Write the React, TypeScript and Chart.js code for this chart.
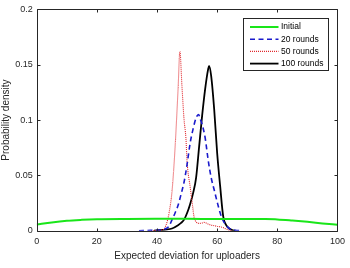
import React, { useEffect, useRef } from "react";
import { Chart, registerables } from "chart.js";

Chart.register(...registerables);

const xTicks = [0, 20, 40, 60, 80, 100];
const yTicks = [0, 0.05, 0.1, 0.15, 0.2];

const initialX = [0, 5, 10, 15, 20, 30, 40, 50, 60, 70, 75, 80, 85, 90, 95, 100];
const initialY = [0.0055, 0.0075, 0.009, 0.0098, 0.0103, 0.0106, 0.0107, 0.0107, 0.0106, 0.0106, 0.0105, 0.0102, 0.0092, 0.008, 0.0066, 0.0053];

const r20X = [34, 38, 40, 42, 43, 44, 45, 46, 47, 48, 49, 50, 51, 52, 53, 53.8, 54.5, 55, 56, 57, 58, 59, 60, 61, 62, 63, 64, 65, 66, 68];
const r20Y = [0, 0.0003, 0.0005, 0.001, 0.002, 0.004, 0.01, 0.016, 0.023, 0.033, 0.044, 0.06, 0.079, 0.092, 0.102, 0.105, 0.1, 0.096, 0.084, 0.064, 0.048, 0.037, 0.026, 0.016, 0.009, 0.005, 0.002, 0.001, 0.0004, 0];

const r50X = [38, 40, 42, 43, 44, 45, 46, 47, 47.6, 48.3, 49, 49.6, 50, 51, 51.8, 52.3, 53, 54, 55, 55.6, 57, 58, 59, 60, 61, 62, 63, 64, 65];
const r50Y = [0, 0.0003, 0.001, 0.005, 0.016, 0.036, 0.075, 0.128, 0.162, 0.13, 0.1, 0.084, 0.062, 0.04, 0.023, 0.0125, 0.008, 0.0066, 0.007, 0.0075, 0.006, 0.005, 0.0045, 0.004, 0.0035, 0.0028, 0.0015, 0.0005, 0];

const r100X = [39, 41, 43, 45, 47, 48, 49, 50, 51, 52, 53, 54, 55, 56, 57, 57.3, 58, 59, 60, 61, 62, 63, 64, 65, 66];
const r100Y = [0, 0.0005, 0.001, 0.002, 0.005, 0.007, 0.01, 0.016, 0.024, 0.034, 0.048, 0.076, 0.104, 0.128, 0.146, 0.149, 0.14, 0.11, 0.07, 0.04, 0.013, 0.005, 0.002, 0.0005, 0];

const seriesLabels = ["Initial", "20 rounds", "50 rounds", "100 rounds"];

const toPts = (xs: number[], ys: number[]) => xs.map((x, i) => ({ x, y: ys[i] }));

const AXIS = "#262626";
const FONT = "'Liberation Sans', Arial, Helvetica, sans-serif";

const framePlugin = {
  id: "frame",
  afterDraw(chart: any) {
    const { ctx, chartArea: a, scales } = chart;
    ctx.save();
    ctx.strokeStyle = AXIS;
    ctx.lineWidth = 1;
    ctx.beginPath();
    const L = Math.round(a.left) + 0.5, R = Math.round(a.right) + 0.5;
    const T = Math.round(a.top) + 0.5, B = Math.round(a.bottom) + 0.5;
    ctx.rect(L, T, R - L, B - T);
    const tl = 3;
    for (const v of xTicks) {
      const px = Math.round(scales.x.getPixelForValue(v)) + 0.5;
      ctx.moveTo(px, B); ctx.lineTo(px, B - tl);
      ctx.moveTo(px, T); ctx.lineTo(px, T + tl);
    }
    for (const v of yTicks) {
      const py = Math.round(scales.y.getPixelForValue(v)) + 0.5;
      ctx.moveTo(L, py); ctx.lineTo(L + tl, py);
      ctx.moveTo(R, py); ctx.lineTo(R - tl, py);
    }
    ctx.stroke();

    // legend box
    const bw = 85, bh = 52;
    const bx = Math.round(a.right - 9 - bw) + 0.5;
    const by = Math.round(a.top + 9) + 0.5;
    ctx.fillStyle = "#ffffff";
    ctx.fillRect(bx, by, bw, bh);
    ctx.strokeStyle = AXIS;
    ctx.lineWidth = 1;
    ctx.setLineDash([]);
    ctx.strokeRect(bx, by, bw, bh);
    ctx.font = `8.5px ${FONT}`;
    ctx.textBaseline = "middle";
    ctx.textAlign = "left";
    chart.data.datasets.forEach((ds: any, i: number) => {
      const y = by + 8.5 + i * 12.2;
      ctx.beginPath();
      ctx.strokeStyle = ds.borderColor;
      ctx.lineWidth = ds.borderWidth;
      ctx.setLineDash(ds.borderDash || []);
      ctx.moveTo(bx + 6.5, y);
      ctx.lineTo(bx + 35, y);
      ctx.stroke();
      ctx.setLineDash([]);
      ctx.fillStyle = "#000000";
      ctx.fillText(ds.label, bx + 37.5, y);
    });
    ctx.restore();
  },
};

export default function App() {
  const ref = useRef<HTMLCanvasElement>(null);
  useEffect(() => {
    document.body.style.margin = "0";
    const c = ref.current!;
    const chart = new Chart(c, {
      type: "scatter",
      data: {
        datasets: [
          { label: seriesLabels[0], data: toPts(initialX, initialY), showLine: true, borderColor: "#19e619", borderWidth: 2, pointRadius: 0, cubicInterpolationMode: "monotone" },
          { label: seriesLabels[1], data: toPts(r20X, r20Y), showLine: true, borderColor: "#1a1acc", borderWidth: 1.6, borderDash: [5, 3.5], pointRadius: 0, cubicInterpolationMode: "monotone" },
          { label: seriesLabels[2], data: toPts(r50X, r50Y), showLine: true, borderColor: "#e0282d", borderWidth: 1.1, borderDash: [1, 1], pointRadius: 0, cubicInterpolationMode: "monotone" },
          { label: seriesLabels[3], data: toPts(r100X, r100Y), showLine: true, borderColor: "#000000", borderWidth: 1.8, pointRadius: 0, cubicInterpolationMode: "monotone" },
        ] as any,
      },
      options: {
        responsive: false,
        animation: false,
        layout: { padding: { top: 6, right: 11, bottom: 0, left: 0 } },
        plugins: { legend: { display: false }, tooltip: { enabled: false } },
        scales: {
          x: {
            type: "linear", min: 0, max: 100,
            afterBuildTicks: (s: any) => { s.ticks = xTicks.map((v) => ({ value: v })); },
            afterFit: (s: any) => { s.height = 37.3; },
            grid: { display: false, drawTicks: false },
            border: { display: false },
            ticks: { padding: 5, color: AXIS, font: { family: FONT, size: 9 }, maxRotation: 0, callback: (v: any) => String(v) },
            title: { display: true, text: "Expected deviation for uploaders", color: AXIS, font: { family: FONT, size: 10 }, padding: { top: 0, bottom: 6 } },
          },
          y: {
            type: "linear", min: 0, max: 0.2,
            afterBuildTicks: (s: any) => { s.ticks = yTicks.map((v) => ({ value: v })); },
            afterFit: (s: any) => { s.width = 36.7; },
            grid: { display: false, drawTicks: false },
            border: { display: false },
            ticks: { padding: 4, color: AXIS, font: { family: FONT, size: 9 }, callback: (v: any) => String(Number(v)) },
            title: { display: true, text: "Probability density", color: AXIS, font: { family: FONT, size: 10 }, padding: 0 },
          },
        },
      } as any,
      plugins: [framePlugin],
    });
    return () => chart.destroy();
  }, []);
  return <canvas ref={ref} width={350} height={268} style={{ display: "block" }} />;
}
